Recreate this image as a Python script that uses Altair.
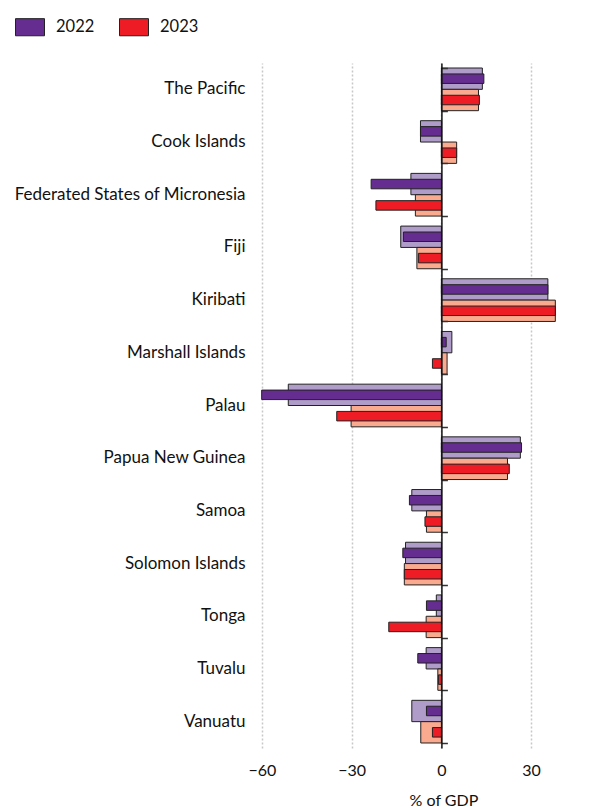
import altair as alt
import pandas as pd

categories = ["The Pacific", "Cook Islands", "Federated States of Micronesia", "Fiji",
              "Kiribati", "Marshall Islands", "Palau", "Papua New Guinea", "Samoa",
              "Solomon Islands", "Tonga", "Tuvalu", "Vanuatu"]
years = ["2022", "2023"]
# wide (light) bars and narrow (dark) bars, % of GDP
light_2022 = [13.7, -7.0, -10.2, -13.6, 35.6, 3.5, -51.2, 26.4, -9.9, -12.0, -1.7, -5.1, -9.9]
dark_2022 = [14.2, -7.0, -23.5, -12.7, 35.6, 1.6, -60.1, 26.8, -10.7, -12.9, -5.0, -7.9, -5.0]
light_2023 = [12.4, 5.1, -8.7, -8.2, 38.1, 1.9, -30.2, 22.1, -5.0, -12.4, -5.1, -1.2, -6.9]
dark_2023 = [12.7, 5.1, -21.9, -7.7, 38.1, -3.0, -35.0, 22.7, -5.5, -12.4, -17.6, -1.0, -3.0]

dark_colors = ["#662D91", "#EE1C25"]
light_colors = ["#B09CC8", "#F9AA8F"]

rows = []
for i, c in enumerate(categories):
    rows.append({"cat": c, "year": "2022", "kind": "light", "value": light_2022[i], "fill": light_colors[0]})
    rows.append({"cat": c, "year": "2022", "kind": "dark", "value": dark_2022[i], "fill": dark_colors[0]})
    rows.append({"cat": c, "year": "2023", "kind": "light", "value": light_2023[i], "fill": light_colors[1]})
    rows.append({"cat": c, "year": "2023", "kind": "dark", "value": dark_2023[i], "fill": dark_colors[1]})
df = pd.DataFrame(rows)

FONT = "Lato"
W, H = 311, 685
xmin, xmax = -62, 42
x0 = (0 - xmin) / (xmax - xmin) * W

xscale = alt.Scale(domain=[xmin, xmax], nice=False, zero=False)
yscale = alt.Scale(domain=categories, paddingInner=0.19, paddingOuter=0.095)
yoff = alt.YOffset("year:N", scale=alt.Scale(domain=years, paddingInner=0, paddingOuter=0))

base = alt.Chart(df)

light = base.transform_filter(alt.datum.kind == "light").mark_bar(
    stroke="#222", strokeWidth=1
).encode(
    x=alt.X("value:Q", scale=xscale,
            axis=alt.Axis(values=[-60, -30, 0, 30], title="% of GDP", domain=False, ticks=False,
                          grid=True, gridColor="#c8c8c8", gridDash=[2, 2], gridWidth=1.5,
                          labelFontSize=16, labelPadding=14, labelColor="#111", labelFont=FONT,
                          titleFont=FONT, titleFontSize=16, titleFontWeight="normal",
                          titleColor="#111", titlePadding=14, titleX=x0 + 2,
                          titleAlign="center")),
    y=alt.Y("cat:N", scale=yscale, sort=categories,
            axis=alt.Axis(title=None, domain=False, ticks=False, labelFontSize=17,
                          labelFont=FONT, labelColor="#111", labelPadding=11, labelLimit=300)),
    yOffset=yoff,
    fill=alt.Fill("fill:N", scale=None),
)

dark = base.transform_filter(alt.datum.kind == "dark").mark_bar(
    stroke="#222", strokeWidth=1, height=9.5
).encode(
    x=alt.X("value:Q", scale=xscale),
    y=alt.Y("cat:N", scale=yscale, sort=categories,
            axis=alt.Axis(orient="right", offset=-(W - x0), title=None, labels=False,
                          domain=True, domainColor="#111", domainWidth=1.5,
                          ticks=True, tickBand="extent", tickSize=6, tickColor="#333",
                          tickWidth=1.5, grid=False, zindex=2)),
    yOffset=yoff,
    fill=alt.Fill("year:N", scale=alt.Scale(domain=years, range=dark_colors),
                  legend=alt.Legend(title=None, orient="none", legendX=15 - (8 + 248),
                                    legendY=14 - 63 - 2, direction="horizontal",
                                    symbolType="M-1,-0.59L1,-0.59L1,0.59L-1,0.59Z",
                                    symbolSize=841, symbolStrokeColor="#222",
                                    symbolStrokeWidth=1, symbolOpacity=1,
                                    labelFontSize=16.5, labelFont=FONT, labelColor="#111",
                                    labelOffset=11, columnPadding=22)),
)

chart = alt.layer(light, dark).resolve_axis(y="independent").properties(
    width=W, height=H,
    autosize=alt.AutoSizeParams(type="none"),
    padding={"left": 248, "top": 55, "right": 32, "bottom": 60},
).configure_view(stroke=None)

chart.save("out.html", embed_options={"renderer": "svg", "actions": False})
